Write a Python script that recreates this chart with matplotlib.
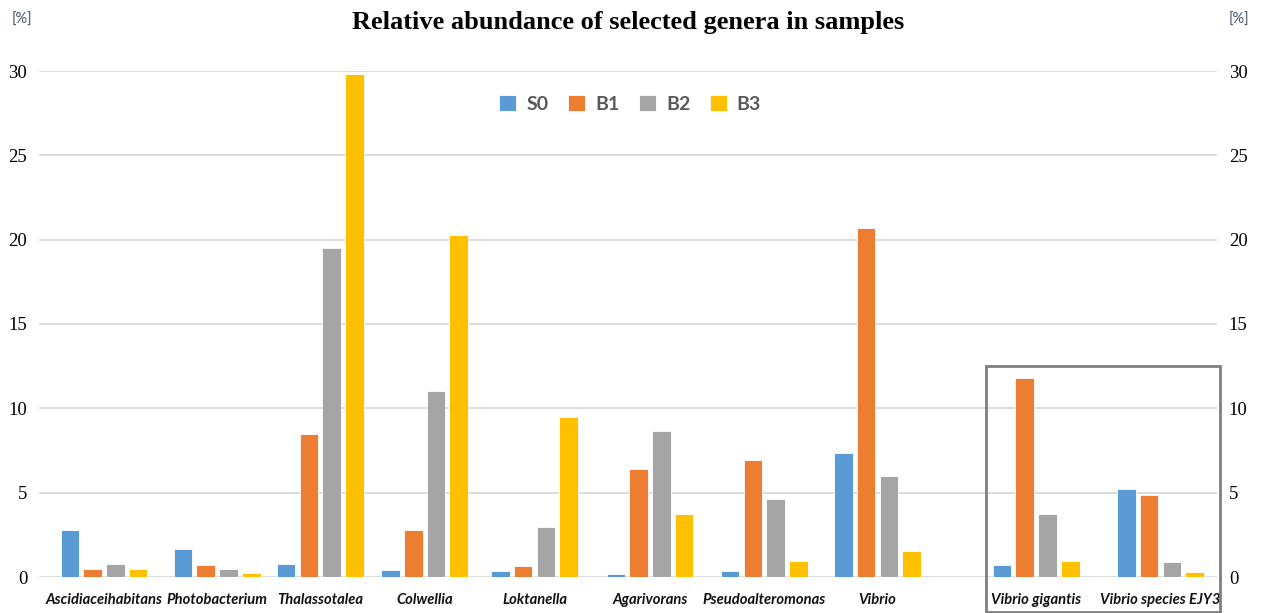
import numpy as np
import matplotlib.pyplot as plt
from matplotlib.patches import Rectangle

# genera and relative abundance [%] per sample
genera = ['Ascidiaceihabitans', 'Photobacterium', 'Thalassotalea', 'Colwellia',
          'Loktanella', 'Agarivorans', 'Pseudoalteromonas', 'Vibrio',
          'Vibrio gigantis', 'Vibrio species EJY3']
s0 = [2.8, 1.66, 0.77, 0.39, 0.33, 0.2, 0.38, 7.35, 0.71, 5.2]
b1 = [0.47, 0.71, 8.5, 2.8, 0.65, 6.4, 6.92, 20.7, 11.8, 4.88]
b2 = [0.77, 0.47, 19.5, 11.03, 2.94, 8.65, 4.64, 6.0, 3.73, 0.89]
b3 = [0.47, 0.22, 29.8, 20.3, 9.5, 3.73, 0.97, 1.52, 0.97, 0.28]
series = ['S0', 'B1', 'B2', 'B3']
colors = ['#5B9BD5', '#ED7D31', '#A5A5A5', '#FFC000']
yticks = [0, 5, 10, 15, 20, 25, 30]

# group centres (last two species set apart)
pos = np.array([0, 1.02, 1.95, 2.89, 3.88, 4.92, 5.95, 6.97, 8.40, 9.52])

fig = plt.figure(figsize=(12.61, 6.13), dpi=100)
ax = fig.add_axes([39/1261, 36/613, (1217-39)/1261, (577-71)/613])

step = 0.205
width = 0.167
for i, (vals, name, c) in enumerate(zip([s0, b1, b2, b3], series, colors)):
    ax.bar(pos + (i - 1.5) * step, vals, width, color=c, label=name,
           edgecolor='white', linewidth=0.6, zorder=3)

ax.set_xlim(-0.585, 10.03)
ax.set_ylim(0, 30)
ax.set_yticks(yticks)
ax.yaxis.grid(True, color='#D9D9D9', linewidth=1.3, zorder=0)
ax.set_axisbelow(True)
for sp in ax.spines.values():
    sp.set_visible(False)
ax.tick_params(axis='y', left=False, right=False, labelleft=True, labelright=True)
for t in ax.yaxis.get_major_ticks():
    for lab in (t.label1, t.label2):
        lab.set_fontfamily('Liberation Serif')
        lab.set_fontsize(13.5)
    t.set_pad(5)

ax.set_xticks(pos)
ax.set_xticklabels(genera, family=['Lato', 'DejaVu Sans'],
                   fontstyle='italic', fontweight='bold', fontsize=10.6, color='#111111')
ax.tick_params(axis='x', bottom=False, pad=8)

# unit labels
for xp in (22, 1239):
    fig.text(xp/1261, 1 - 20/613, '[%]', ha='center', va='center', fontsize=10.5,
             color='#44546A', family=['Lato', 'DejaVu Sans'])

fig.text(628/1261, 1 - 22/613, 'Relative abundance of selected genera in samples',
         ha='center', va='center', fontsize=19, fontweight='bold',
         family='Liberation Serif')

leg = ax.legend(loc='center', bbox_to_anchor=((630-39)/(1217-39), (577-104)/(577-71)),
                ncol=4, frameon=False, handlelength=0.9, handleheight=0.9,
                columnspacing=1.0, handletextpad=0.5,
                prop={'family': ['Lato', 'DejaVu Sans'], 'weight': 'bold', 'size': 14})
for t in leg.get_texts():
    t.set_color('#595959')

# box around the two species
fig.patches.append(Rectangle((986/1261, 1/613), (1220-986)/1261, (612-366)/613,
                             transform=fig.transFigure, fill=False,
                             edgecolor='#7F7F7F', linewidth=2))

fig.savefig('out.png', dpi=100)
